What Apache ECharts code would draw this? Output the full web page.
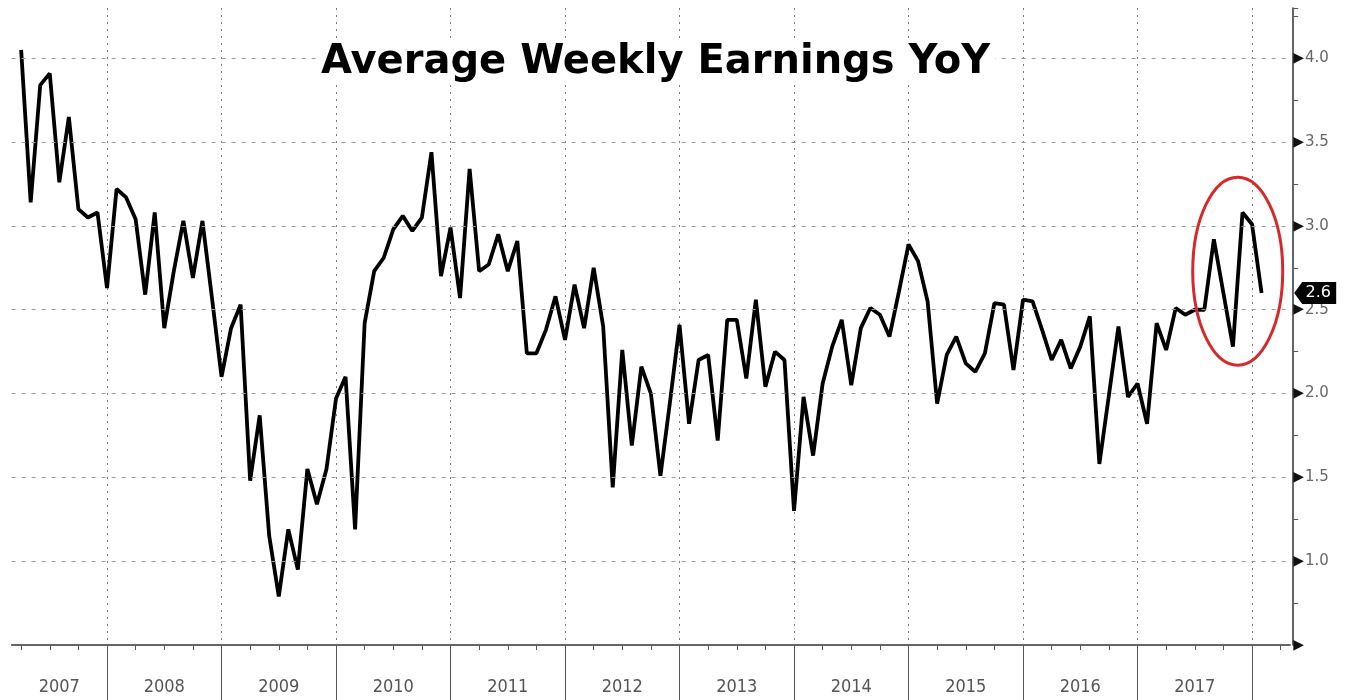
<!DOCTYPE html>
<html>
<head>
<meta charset="utf-8">
<style>
html,body{margin:0;padding:0;background:#fff;}
#chart{width:1348px;height:700px;}
</style>
<script src="https://cdn.jsdelivr.net/npm/echarts@6/dist/echarts.min.js"></script>
</head>
<body>
<div id="chart"></div>
<script>
// ---- data (monthly YoY %, Mar 2007 .. Jan 2018) ----
const titleText = 'Average Weekly Earnings YoY';
const years = ['2007','2008','2009','2010','2011','2012','2013','2014','2015','2016','2017','2018'];
const firstDataMonth = '2007-03';
const axisFirstMonth = '2007-02';
const axisLastMonth = '2018-04';
const yoy2007 = [4.05, 3.14, 3.84, 3.91, 3.26, 3.65, 3.10, 3.05, 3.08, 2.63];
const yoy2008 = [3.22, 3.17, 3.04, 2.59, 3.08, 2.39, 2.73, 3.03, 2.69, 3.03, 2.57, 2.10];
const yoy2009 = [2.39, 2.53, 1.48, 1.87, 1.15, 0.79, 1.19, 0.95, 1.55, 1.34, 1.55, 1.97];
const yoy2010 = [2.10, 1.19, 2.42, 2.73, 2.81, 2.98, 3.06, 2.97, 3.05, 3.44, 2.70, 2.99];
const yoy2011 = [2.57, 3.34, 2.73, 2.77, 2.95, 2.73, 2.91, 2.24, 2.24, 2.38, 2.58, 2.32];
const yoy2012 = [2.65, 2.39, 2.75, 2.40, 1.44, 2.26, 1.69, 2.16, 2.00, 1.51, 1.95, 2.41];
const yoy2013 = [1.82, 2.20, 2.23, 1.72, 2.44, 2.44, 2.09, 2.56, 2.04, 2.25, 2.20, 1.30];
const yoy2014 = [1.98, 1.63, 2.06, 2.28, 2.44, 2.05, 2.39, 2.51, 2.47, 2.34, 2.61, 2.89];
const yoy2015 = [2.79, 2.55, 1.94, 2.23, 2.34, 2.18, 2.13, 2.24, 2.54, 2.53, 2.14, 2.56];
const yoy2016 = [2.55, 2.38, 2.20, 2.32, 2.15, 2.28, 2.46, 1.58, 1.99, 2.40, 1.98, 2.06];
const yoy2017 = [1.82, 2.42, 2.26, 2.51, 2.47, 2.50, 2.50, 2.92, 2.60, 2.28, 3.08, 3.01];
const yoy2018 = [2.60];
const gridValues = [1.0, 1.5, 2.0, 2.5, 3.0, 3.5, 4.0];
const circledFrom = '2017-10', circledTo = '2017-11', circledCenterValue = 2.73;

// ---- build categories / series ----
const allMonths = [];
years.forEach(y => { for (let m = 1; m <= 12; m++) allMonths.push(y + '-' + String(m).padStart(2, '0')); });
const categories = allMonths.slice(allMonths.indexOf(axisFirstMonth), allMonths.indexOf(axisLastMonth) + 1);
const values = [].concat(yoy2007, yoy2008, yoy2009, yoy2010, yoy2011, yoy2012, yoy2013, yoy2014, yoy2015, yoy2016, yoy2017, yoy2018);
const startIdx = categories.indexOf(firstDataMonth);
const seriesData = categories.map((c, i) => {
  const k = i - startIdx;
  return (k >= 0 && k < values.length) ? values[k] : null;
});
const lastValue = values[values.length - 1];
const lastCat = categories[categories.length - 1];

const isMajor = v => Math.abs(v * 2 - Math.round(v * 2)) < 1e-6;

const chart = echarts.init(document.getElementById('chart'), null, {renderer: 'canvas'});
const option = {
  animation: false,
  backgroundColor: '#fff',
  title: {
    text: titleText,
    left: 316, top: 43,
    padding: [0, 5],
    backgroundColor: '#fff',
    textStyle: {fontFamily: 'DejaVu Sans', fontWeight: 'bold', fontSize: 40, color: '#000'}
  },
  grid: {left: 11.6, right: 57.8, top: 8, bottom: 55, containLabel: false, outerBoundsMode: 'none'},
  xAxis: [{
    type: 'category', data: categories, boundaryGap: false, position: 'bottom',
    axisLine: {show: true, lineStyle: {color: '#333', width: 1.5}},
    axisTick: {show: true, interval: (i, v) => v.endsWith('-12'), length: 55, lineStyle: {color: '#555', width: 1}},
    axisLabel: {
      show: true,
      interval: (i, v) => v === '2007-07' || (v.endsWith('-06') && v > '2007-12'),
      formatter: v => v.slice(0, 4),
      margin: 33, color: '#555', fontSize: 18,
      fontFamily: "'DejaVu Sans Condensed', 'Liberation Sans Narrow', sans-serif"
    },
    splitLine: {show: true, interval: (i, v) => v.endsWith('-12'), lineStyle: {type: [2, 5], color: '#777', width: 1}}
  }, {
    type: 'category', data: categories, boundaryGap: false, position: 'bottom',
    axisLine: {show: false},
    axisTick: {show: true, interval: (i, v) => ['03', '06', '09'].includes(v.slice(5)), length: 5, lineStyle: {color: '#555', width: 1}},
    axisLabel: {show: false},
    splitLine: {show: false}
  }],
  yAxis: {
    type: 'value', position: 'right', min: 0.5, max: 4.3, interval: 0.25, offset: 3,
    axisLine: {show: true, lineStyle: {color: '#333', width: 1.5}},
    axisTick: {show: true, length: 5, lineStyle: {color: '#555'}},
    splitLine: {show: false},
    axisLabel: {
      margin: 0,
      formatter: v => {
        if (!isMajor(v)) return '';
        if (Math.abs(v - 0.5) < 1e-6) return '{a|\u25B6}';
        return '{a|\u25B6}{b|' + v.toFixed(1) + '}';
      },
      rich: {
        a: {fontSize: 14, color: '#111', fontFamily: 'DejaVu Sans'},
        b: {fontSize: 15, color: '#666', fontFamily: 'DejaVu Sans', padding: [0, 0, 0, 1]}
      }
    }
  },
  series: [{
    type: 'line', name: 'grid', data: categories.map(() => null), z: 1, silent: true,
    markLine: {
      silent: true, symbol: 'none', label: {show: false}, animation: false,
      lineStyle: {type: [4, 6], color: '#999', width: 1},
      data: gridValues.map(v => ({yAxis: v}))
    }
  }, {
    type: 'line', name: 'Average Weekly Earnings YoY', data: seriesData, z: 3,
    symbol: 'none', showSymbol: false,
    lineStyle: {color: '#000', width: 3.8},
    markPoint: {
      symbol: 'path://M0,11 L8,0 L42,0 L42,22 L8,22 Z',
      symbolSize: [42, 22], symbolOffset: [25, 0],
      itemStyle: {color: '#000'},
      label: {show: true, color: '#fff', fontSize: 16, fontFamily: 'DejaVu Sans', offset: [3, 0], formatter: p => Number(p.value).toFixed(1)},
      data: [{coord: [lastCat, lastValue], value: lastValue}]
    }
  }]
};
chart.setOption(option);

// red annotation ellipse around the recent swing
const pa = chart.convertToPixel({xAxisIndex: 0, yAxisIndex: 0}, [circledFrom, circledCenterValue]);
const pb = chart.convertToPixel({xAxisIndex: 0, yAxisIndex: 0}, [circledTo, circledCenterValue]);
chart.setOption({
  graphic: [{
    type: 'ellipse', z: 100,
    shape: {cx: (pa[0] + pb[0]) / 2, cy: pa[1], rx: 45, ry: 94},
    style: {fill: 'none', stroke: '#d42a2a', lineWidth: 3}
  }]
});
</script>
</body>
</html>
